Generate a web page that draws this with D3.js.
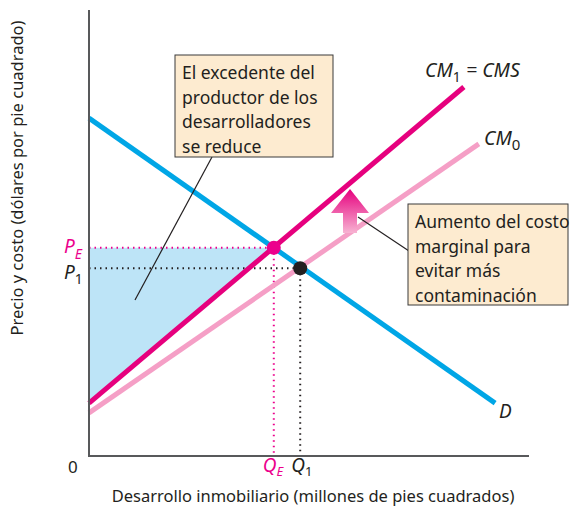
<!DOCTYPE html>
<html lang="es">
<head>
<meta charset="UTF-8">
<title>Costo marginal social</title>
<script src="https://cdn.jsdelivr.net/npm/d3@7/dist/d3.min.js"></script>
<style>
  body { margin: 0; background: #fff; }
  svg text { font-family: "Noto Sans", sans-serif; fill: #231f20; }
</style>
</head>
<body>
<svg id="chart" width="571" height="507"></svg>
<script>
// curvas (unidades arbitrarias: cantidad 0-100, precio 0-100)
const demandLine = [[0, 76.1], [92.3, 11.9]];     // D
const cm1Line = [[0, 11.9], [85.2, 83.1]];         // CM1 = CMS
const cm0Line = [[0, 9.7], [88.6, 70.3]];          // CM0
const eqE = { q: 42.0, p: 46.9 };                  // QE, PE
const eq1 = { q: 48.0, p: 42.3 };                  // Q1, P1
const box1Lines = ["El excedente del", "productor de los", "desarrolladores", "se reduce"];
const box2Lines = ["Aumento del costo", "marginal para", "evitar más", "contaminación"];

const svg = d3.select("#chart");
const x = d3.scaleLinear().domain([0, 100]).range([89, 529]);
const y = d3.scaleLinear().domain([0, 100]).range([456, 12]);

// área sombreada: excedente perdido (entre PE y CM1)
const cmAt = q => cm1Line[0][1] + (cm1Line[1][1] - cm1Line[0][1]) / (cm1Line[1][0] - cm1Line[0][0]) * q;
svg.append("path")
   .attr("d", d3.line().x(d => x(d[0])).y(d => y(d[1]))([[0, eqE.p], [eqE.q, eqE.p], [0, cmAt(0)]]))
   .attr("fill", "#bde4f7");

// líneas punteadas
function dotted(x1, y1, x2, y2, color) {
    svg.append("line")
       .attr("x1", x1).attr("y1", y1).attr("x2", x2).attr("y2", y2)
       .attr("stroke", color).attr("stroke-width", 2)
       .attr("stroke-dasharray", "1.5,4");
}
dotted(x(0), y(eqE.p), x(eqE.q), y(eqE.p), "#ec008c");
dotted(x(eqE.q), y(eqE.p), x(eqE.q), y(0), "#ec008c");
dotted(x(0), y(eq1.p), x(eq1.q), y(eq1.p), "#231f20");
dotted(x(eq1.q), y(eq1.p), x(eq1.q), y(0), "#231f20");

// curvas
const line = d3.line().x(d => x(d[0])).y(d => y(d[1]));
svg.append("path").attr("d", line(cm0Line)).attr("stroke", "#f59fc6").attr("stroke-width", 5).attr("fill", "none");
svg.append("path").attr("d", line(demandLine)).attr("stroke", "#00a6e6").attr("stroke-width", 5).attr("fill", "none");
svg.append("path").attr("d", line(cm1Line)).attr("stroke", "#e6007e").attr("stroke-width", 5).attr("fill", "none");

// ejes
svg.append("path")
   .attr("d", `M${x(0)},${y(100) - 2}V${y(0)}H${x(100)}`)
   .attr("stroke", "#58595b").attr("stroke-width", 2).attr("fill", "none");

// puntos de equilibrio
svg.append("circle").attr("cx", x(eqE.q)).attr("cy", y(eqE.p)).attr("r", 7).attr("fill", "#ec008c");
svg.append("circle").attr("cx", x(eq1.q)).attr("cy", y(eq1.p)).attr("r", 7).attr("fill", "#231f20");

// flecha de aumento
const ax = 350, ay = 189;
svg.append("defs").append("linearGradient")
   .attr("id", "arrowGrad").attr("x1", 0).attr("y1", 0).attr("x2", 0).attr("y2", 1)
   .selectAll("stop").data([["0%", "#e6007e"], ["100%", "#f7b3d2"]]).enter()
   .append("stop").attr("offset", d => d[0]).attr("stop-color", d => d[1]);
svg.append("path")
   .attr("d", `M${ax},${ay} L${ax + 19},${ay + 24} L${ax + 7},${ay + 24} L${ax + 7},${ay + 44} L${ax - 7},${ay + 44} L${ax - 7},${ay + 24} L${ax - 19},${ay + 24} Z`)
   .attr("fill", "url(#arrowGrad)");

// líneas guía
svg.append("line").attr("x1", 212).attr("y1", 157).attr("x2", 135).attr("y2", 300)
   .attr("stroke", "#231f20").attr("stroke-width", 1.2);
svg.append("line").attr("x1", 358).attr("y1", 217).attr("x2", 409).attr("y2", 251)
   .attr("stroke", "#231f20").attr("stroke-width", 1.2);

// cuadros de texto
function textBox(x0, y0, w, h, lines) {
    svg.append("rect").attr("x", x0).attr("y", y0).attr("width", w).attr("height", h)
       .attr("fill", "#fdebd0").attr("stroke", "#3a3a3a").attr("stroke-width", 1);
    svg.append("text").attr("x", x0 + 6).attr("y", y0 + 24)
       .attr("font-size", 17.5)
       .selectAll("tspan").data(lines).enter().append("tspan")
       .attr("x", x0 + 7).attr("dy", (d, i) => i === 0 ? 0 : 24.5)
       .text(d => d);
}
textBox(175, 55, 158, 102, box1Lines);
textBox(408, 204, 160, 101, box2Lines);

// etiquetas de curvas
function sub(t, main, s, opts) {
    t.append("tspan").text(main);
    t.append("tspan").attr("font-size", opts.sub).attr("dy", 5).attr("font-style", "normal").text(s);
    return t;
}
let t = svg.append("text").attr("x", 425).attr("y", 77).attr("font-size", 19.5).attr("font-style", "italic");
t.append("tspan").text("CM");
t.append("tspan").attr("font-size", 14).attr("dy", 5).attr("font-style", "normal").text("1");
t.append("tspan").attr("dy", -5).text(" = CMS");

t = svg.append("text").attr("x", 484).attr("y", 145).attr("font-size", 19.5).attr("font-style", "italic");
sub(t, "CM", "0", { sub: 15 });

svg.append("text").attr("x", 499).attr("y", 418).attr("font-size", 19).attr("font-style", "italic").text("D");

// etiquetas de ejes
t = svg.append("text").attr("x", 64).attr("y", y(eqE.p) + 5).attr("font-size", 19).attr("font-style", "italic").style("fill", "#ec008c");
t.append("tspan").text("P");
t.append("tspan").attr("font-size", 14).attr("dy", 6).text("E");

t = svg.append("text").attr("x", 64).attr("y", y(eq1.p) + 11).attr("font-size", 19).attr("font-style", "italic");
sub(t, "P", "1", { sub: 14 });

t = svg.append("text").attr("x", x(eqE.q) - 11).attr("y", 472).attr("font-size", 19).attr("font-style", "italic").style("fill", "#ec008c");
t.append("tspan").text("Q");
t.append("tspan").attr("font-size", 13).attr("dy", 4).text("E");

t = svg.append("text").attr("x", x(eq1.q) - 9).attr("y", 472).attr("font-size", 19).attr("font-style", "italic");
t.append("tspan").text("Q");
t.append("tspan").attr("font-size", 13).attr("dy", 4).attr("font-style", "normal").text("1");

svg.append("text").attr("x", 68).attr("y", 473).attr("font-size", 17).text("0");

svg.append("text").attr("x", 313).attr("y", 502).attr("text-anchor", "middle").attr("font-size", 16.5)
   .text("Desarrollo inmobiliario (millones de pies cuadrados)");
svg.append("text").attr("transform", "translate(23,178) rotate(-90)").attr("text-anchor", "middle").attr("font-size", 16.5)
   .text("Precio y costo (dólares por pie cuadrado)");
</script>
</body>
</html>
